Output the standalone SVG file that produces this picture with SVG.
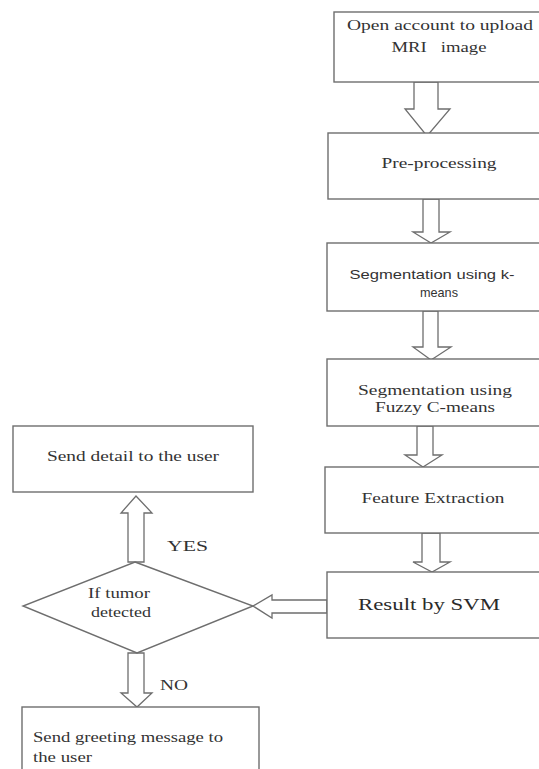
<svg xmlns="http://www.w3.org/2000/svg" width="539" height="769" viewBox="0 0 539 769">
<style>
.box{fill:#fff;stroke:#6e6e6e;stroke-width:1.4}
.arr{fill:#fff;stroke:#6e6e6e;stroke-width:1.3;stroke-linejoin:miter}
text{font-family:"Liberation Serif","Times New Roman",serif;font-size:14px;fill:#333}
.big{font-size:16px;fill:#2a2a2a}
.sans{font-family:"Liberation Sans",Arial,sans-serif;font-size:13px}
.m{text-anchor:middle}
</style>
<rect width="539" height="769" fill="#fff"/>
<g id="connectors">
<polygon class="arr" points="414,82 414,109 405,109 427,136 450,109 438,109 438,82"/>
<polygon class="arr" points="423,199 423,232 413,232 431,243 450,232 439,232 439,199"/>
<polygon class="arr" points="423,311 423,347 413,347 431,360 451,347 438,347 438,311"/>
<polygon class="arr" points="417,426 417,455 405,455 423,467 442,455 433,455 433,426"/>
<polygon class="arr" points="422,533 422,562 413,562 432,572 450,562 440,562 440,533"/>
<polygon class="arr" points="327,600 272,600 272,595 253,606 272,618 272,613 327,613"/>
<polygon class="arr" points="128,562 128,513 121,513 136,496 152,513 144,513 144,562"/>
<polygon class="arr" points="128,653 128,693 121,693 137,707 152,693 144,693 144,653"/>
</g>
<g id="n-open">
<rect class="box" x="334" y="12" width="215" height="70"/>
<text class="m" x="440" y="30" textLength="186" lengthAdjust="spacingAndGlyphs">Open account to upload</text>
<text class="m" x="439" y="52" textLength="95" lengthAdjust="spacingAndGlyphs" xml:space="preserve">MRI   image</text>
</g>
<g id="n-pre">
<rect class="box" x="328" y="133" width="221" height="66"/>
<text class="m" x="439" y="168" textLength="115" lengthAdjust="spacingAndGlyphs">Pre-processing</text>
</g>
<g id="n-kmeans">
<rect class="box" x="327" y="243" width="222" height="68"/>
<text class="m sans" x="432" y="279" textLength="165" lengthAdjust="spacingAndGlyphs">Segmentation using k-</text>
<text class="m sans" x="439" y="297" textLength="38" lengthAdjust="spacingAndGlyphs">means</text>
</g>
<g id="n-fuzzy">
<rect class="box" x="327" y="359" width="222" height="67"/>
<text class="m" x="435" y="395" textLength="154" lengthAdjust="spacingAndGlyphs">Segmentation using</text>
<text class="m" x="435" y="412" textLength="120" lengthAdjust="spacingAndGlyphs">Fuzzy C-means</text>
</g>
<g id="n-feature">
<rect class="box" x="325" y="467" width="224" height="66"/>
<text class="m" x="433" y="503" textLength="143" lengthAdjust="spacingAndGlyphs">Feature Extraction</text>
</g>
<g id="n-svm">
<rect class="box" x="327" y="572" width="222" height="66"/>
<text class="m big" x="429" y="610" textLength="142" lengthAdjust="spacingAndGlyphs">Result by SVM</text>
</g>
<g id="n-decision">
<polygon class="box" points="135,562 253,606 137,653 23,606"/>
<text class="m" x="119" y="598" textLength="62" lengthAdjust="spacingAndGlyphs">If tumor</text>
<text class="m" x="121" y="617" textLength="60" lengthAdjust="spacingAndGlyphs">detected</text>
</g>
<g id="n-detail">
<rect class="box" x="13" y="426" width="240" height="66"/>
<text class="m" x="133" y="461" textLength="172" lengthAdjust="spacingAndGlyphs">Send detail to the user</text>
</g>
<g id="n-greeting">
<rect class="box" x="22" y="707" width="237" height="80"/>
<text x="33" y="742" textLength="190" lengthAdjust="spacingAndGlyphs">Send greeting message to</text>
<text x="33" y="762" textLength="59" lengthAdjust="spacingAndGlyphs">the user</text>
</g>
<g id="labels">
<text x="167" y="551" textLength="41" lengthAdjust="spacingAndGlyphs">YES</text>
<text x="160" y="690" textLength="28" lengthAdjust="spacingAndGlyphs">NO</text>
</g>
</svg>
